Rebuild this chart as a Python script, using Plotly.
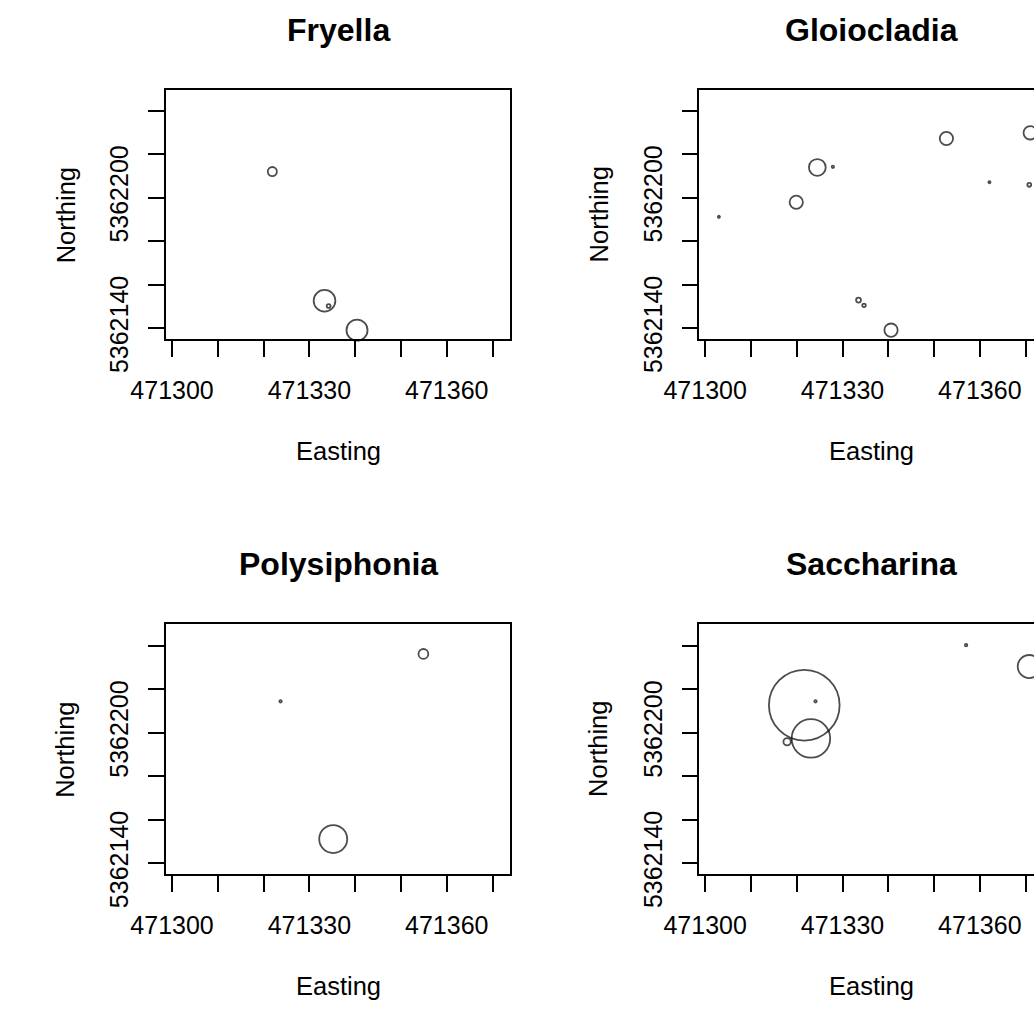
import plotly.graph_objects as go

# ---------------- data ----------------
titles = ["Fryella", "Gloiocladia", "Polysiphonia", "Saccharina"]

fryella_easting = [471321.9, 471333.3, 471334.2, 471340.4]
fryella_northing = [5362212.0, 5362152.6, 5362150.2, 5362139.1]
fryella_abund = [1.3, 3.1, 0.55, 3.0]

gloio_easting = [471303.0, 471319.9, 471324.5, 471327.9, 471333.5, 471334.7,
                 471340.6, 471352.7, 471362.1, 471370.8, 471371.0]
gloio_northing = [5362191.2, 5362197.9, 5362213.9, 5362214.2, 5362152.9, 5362150.5,
                  5362139.1, 5362227.2, 5362207.1, 5362205.9, 5362229.8]
gloio_abund = [0.3, 1.9, 2.4, 0.35, 0.7, 0.5, 1.9, 1.9, 0.3, 0.55, 1.9]

poly_easting = [471354.9, 471323.7, 471335.2]
poly_northing = [5362236.3, 5362214.5, 5362151.1]
poly_abund = [1.4, 0.35, 4.0]

sacch_easting = [471321.65, 471324.1, 471323.1, 471317.9, 471357.0, 471370.8]
sacch_northing = [5362212.7, 5362214.5, 5362197.4, 5362195.9, 5362240.3, 5362230.5]
sacch_abund = [10.1, 0.35, 5.5, 1.05, 0.35, 3.3]

x_tickvals = [471300, 471310, 471320, 471330, 471340, 471350, 471360, 471370]
x_ticktext = ["471300", "", "", "471330", "", "", "471360", ""]
y_tickvals = [5362140, 5362160, 5362180, 5362200, 5362220, 5362240]
y_ticktext = ["5362140", "", "", "5362200", "", ""]

x_label = "Easting"
y_label = "Northing"

# ---------------- layout geometry (pixels) ----------------
W, H = 1034, 1032
SIZE_PER_UNIT = 7.0
FONT = "Liberation Sans, Arial, sans-serif"

def fx(p):
    return p / W

def fy(p):
    return 1 - p / H

panels = [
    dict(title=titles[0], e=fryella_easting, n=fryella_northing, a=fryella_abund,
         xpx=(135.0, 491.3), ypx=(93.3, 350.7), xr=(471298.74, 471373.86),
         yr=(5362134.8, 5362249.35), right=False),
    dict(title=titles[1], e=gloio_easting, n=gloio_northing, a=gloio_abund,
         xpx=(687.3, 1034.0), ypx=(93.3, 350.7), xr=(471298.735, 471371.83),
         yr=(5362134.8, 5362249.35), right=True),
    dict(title=titles[2], e=poly_easting, n=poly_northing, a=poly_abund,
         xpx=(135.0, 491.3), ypx=(645.0, 903.3), xr=(471298.74, 471373.86),
         yr=(5362134.84, 5362249.9), right=False),
    dict(title=titles[3], e=sacch_easting, n=sacch_northing, a=sacch_abund,
         xpx=(687.3, 1034.0), ypx=(645.0, 903.3), xr=(471298.735, 471371.83),
         yr=(5362134.84, 5362249.9), right=True),
]

fig = go.Figure()
annotations = []
layout_axes = {}

for i, p in enumerate(panels, start=1):
    xa = "x" if i == 1 else f"x{i}"
    ya = "y" if i == 1 else f"y{i}"
    fig.add_trace(go.Scatter(
        x=p["e"], y=p["n"], mode="markers", xaxis=xa, yaxis=ya,
        showlegend=False, hoverinfo="x+y", cliponaxis=False,
        marker=dict(symbol="circle-open", color="black",
                    size=[max(v * SIZE_PER_UNIT, 1.5) for v in p["a"]],
                    line=dict(color="black", width=1.8)),
    ))
    common = dict(showline=True, linecolor="black", linewidth=1.6,
                  ticks="outside", ticklen=16, tickwidth=1.5, tickcolor="black",
                  showgrid=False, zeroline=False,
                  tickfont=dict(family=FONT, size=25, color="black"))
    layout_axes["xaxis" if i == 1 else f"xaxis{i}"] = dict(
        common, domain=[fx(p["xpx"][0]), fx(p["xpx"][1])], range=list(p["xr"]),
        anchor=ya, mirror=True, tickmode="array", tickvals=x_tickvals,
        ticktext=x_ticktext, ticklabelstandoff=12)
    layout_axes["yaxis" if i == 1 else f"yaxis{i}"] = dict(
        common, domain=[fy(p["ypx"][1]), fy(p["ypx"][0])], range=list(p["yr"]),
        anchor=xa, mirror=(not p["right"]), tickmode="array", tickvals=y_tickvals,
        ticktext=y_ticktext, tickangle=-90, ticklabelstandoff=10)

    cx = (p["xpx"][0] + (p["xpx"][0] + 356.3)) / 2
    top, bottom = p["ypx"]
    annotations.append(dict(text=f"<b>{p['title']}</b>", x=fx(cx), y=fy(top - 62.8),
                            xref="paper", yref="paper", showarrow=False,
                            xanchor="center", yanchor="middle",
                            font=dict(family=FONT, size=32, color="black")))
    annotations.append(dict(text=x_label, x=fx(cx), y=fy(bottom + 115.5),
                            xref="paper", yref="paper", showarrow=False,
                            xanchor="center", yanchor="middle",
                            font=dict(family=FONT, size=25.5, color="black")))
    annotations.append(dict(text=y_label, x=fx(p["xpx"][0] - 104.5), y=fy((top + bottom) / 2),
                            xref="paper", yref="paper", showarrow=False, textangle=-90,
                            xanchor="center", yanchor="middle",
                            font=dict(family=FONT, size=25.5, color="black")))

fig.update_layout(
    width=W, height=H, margin=dict(l=0, r=0, t=0, b=0),
    paper_bgcolor="white", plot_bgcolor="white",
    annotations=annotations, **layout_axes,
)

fig.write_html("out.html")
